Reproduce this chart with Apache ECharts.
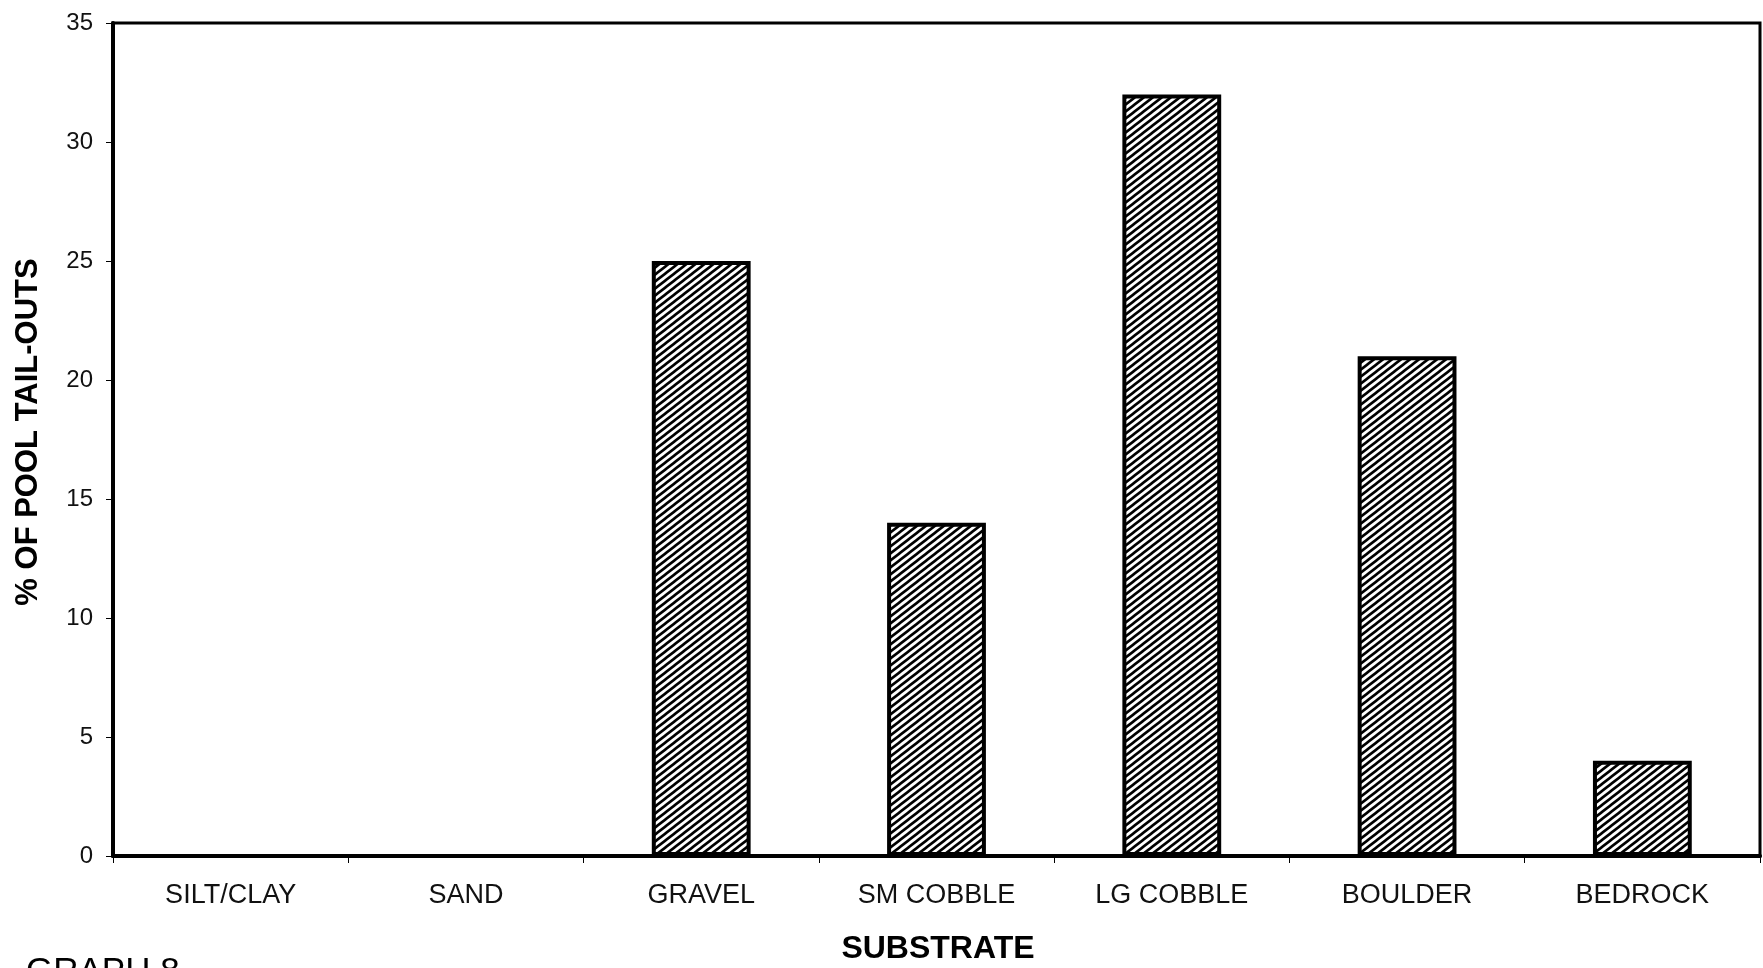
<!DOCTYPE html>
<html>
<head>
<meta charset="utf-8">
<script src="https://cdn.jsdelivr.net/npm/echarts@6/dist/echarts.min.js"></script>
<style>
  html, body { margin: 0; padding: 0; background: #fff; }
  #chart { width: 1763px; height: 968px; }
</style>
</head>
<body>
<div id="chart"></div>
<script>
// Substrate classes and share of pool tail-outs (%)
const categories = ['SILT/CLAY', 'SAND', 'GRAVEL', 'SM COBBLE', 'LG COBBLE', 'BOULDER', 'BEDROCK'];
const percentValues = [0, 0, 25, 14, 32, 21, 4];
const yTicks = { min: 0, max: 35, interval: 5 };

// Diagonal "/" hatch tile (w x h) used as the bar fill
function makeHatch(w, h, lineWidth) {
  const c = document.createElement('canvas');
  c.width = w; c.height = h;
  const ctx = c.getContext('2d');
  ctx.fillStyle = '#fff';
  ctx.fillRect(0, 0, w, h);
  ctx.strokeStyle = '#000';
  ctx.lineWidth = lineWidth;
  const t = 0.4;
  for (const k of [0, 1, 2]) {
    ctx.beginPath();
    ctx.moveTo((k - 1) * w - w * t, h + h * t);
    ctx.lineTo(k * w + w * t, -h * t);
    ctx.stroke();
  }
  return c;
}

const font = '"Liberation Sans", Arial, sans-serif';
const chart = echarts.init(document.getElementById('chart'), null, { renderer: 'canvas' });

chart.setOption({
  backgroundColor: '#fff',
  animation: false,
  grid: {
    left: 113, right: 3, top: 23, bottom: 112,
    show: true, borderColor: '#000', borderWidth: 3, backgroundColor: 'transparent'
  },
  xAxis: {
    type: 'category',
    data: categories,
    axisLine: { show: true, lineStyle: { color: '#000', width: 4 } },
    axisTick: { show: true, alignWithLabel: false, length: 7, lineStyle: { color: '#000', width: 1 } },
    axisLabel: { color: '#111', fontFamily: font, fontSize: 27, margin: 26, interval: 0 },
    splitLine: { show: false }
  },
  yAxis: {
    type: 'value',
    min: yTicks.min, max: yTicks.max, interval: yTicks.interval,
    axisLine: { show: true, lineStyle: { color: '#000', width: 4 } },
    axisTick: { show: true, length: 7, lineStyle: { color: '#000', width: 1 } },
    axisLabel: { color: '#111', fontFamily: font, fontSize: 24, margin: 20 },
    splitLine: { show: false }
  },
  graphic: [
    {
      type: 'text',
      x: 28, y: 432, rotation: Math.PI / 2,
      style: {
        text: '% OF POOL TAIL-OUTS', fill: '#000',
        font: 'bold 31px ' + font, align: 'center', verticalAlign: 'middle'
      }
    },
    {
      type: 'text',
      x: 938, y: 949,
      style: {
        text: 'SUBSTRATE', fill: '#000',
        font: 'bold 32px ' + font, align: 'center', verticalAlign: 'middle'
      }
    },
    {
      type: 'text',
      x: 26, y: 972,
      style: {
        text: 'GRAPH 8', fill: '#000',
        font: '35px ' + font, align: 'left', verticalAlign: 'middle'
      }
    }
  ],
  series: [{
    type: 'bar',
    data: percentValues,
    barWidth: '42%',
    itemStyle: {
      color: { image: makeHatch(9, 7, 2.6), repeat: 'repeat' },
      borderColor: '#000',
      borderWidth: 4
    }
  }]
});
</script>
</body>
</html>
